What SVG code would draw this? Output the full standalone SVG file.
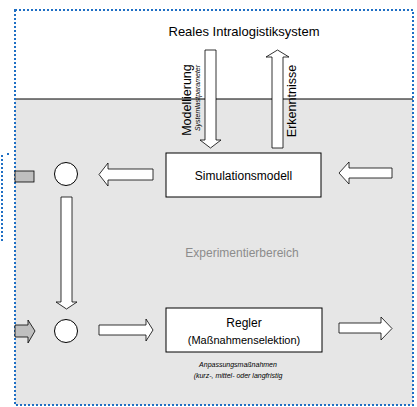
<svg xmlns="http://www.w3.org/2000/svg" width="417" height="407" viewBox="0 0 417 407">
<style>
.blk{fill:#fff;stroke:#000;stroke-width:1}
.arr{fill:#fff;stroke:#000;stroke-width:0.8}
.gar{fill:#bfbfbf;stroke:#000;stroke-width:0.8}
.t{font-family:"Liberation Sans",Arial,sans-serif;fill:#000}
.dot{fill:none;stroke:#1f6fc4;stroke-width:2;stroke-dasharray:2 2}
</style>
<rect x="0" y="0" width="417" height="407" fill="#fff"/>
<rect x="15" y="99" width="398" height="306" fill="#e6e6e6"/>
<line x1="15" y1="99" x2="413" y2="99" stroke="#000" stroke-width="1"/>
<rect class="dot" x="15" y="10" width="398" height="395"/>
<line class="dot" x1="2" y1="155" x2="2" y2="242"/>
<rect x="7" y="153" width="2" height="2" fill="#1f6fc4"/>
<text class="t" x="244" y="36" font-size="13" text-anchor="middle">Reales Intralogistiksystem</text>
<text class="t" x="242" y="257" font-size="12" text-anchor="middle" style="fill:#8c8c8c">Experimentierbereich</text>
<g id="connectors">
<polygon class="arr" points="205,50 216,50 216,140 221,140 210.5,148 200,140 205,140"/>
<polygon class="arr" points="272,148 283,148 283,57 289,57 277.5,50 266,57 272,57"/>
<polygon class="arr" points="153,169 108,169 108,163 99,174.5 108,186 108,180 153,180"/>
<polygon class="arr" points="392,168 349,168 349,162 339,173 349,184 349,178 392,178"/>
<rect class="gar" x="15" y="171" width="19" height="11"/>
<polygon class="arr" points="61,197 72,197 72,302 77,302 66.5,309 56,302 61,302"/>
<polygon class="gar" points="15,325 28,325 28,320 35,331 28,343 28,337 15,337"/>
<polygon class="arr" points="99,325 146,325 146,319 153,330 146,341 146,335 99,335"/>
<polygon class="arr" points="339,323 381,323 381,317 392,328.5 381,340 381,333 339,333"/>
</g>
<text class="t" x="191" y="100" font-size="12.5" text-anchor="middle" transform="rotate(-90 191 100)">Modellierung</text>
<text class="t" x="200" y="98" font-size="7" font-style="italic" text-anchor="middle" transform="rotate(-90 200 98)">Systemlastparameter</text>
<text class="t" x="296" y="101" font-size="12.5" text-anchor="middle" transform="rotate(-90 296 101)">Erkenntnisse</text>
<g id="sim">
<rect class="blk" x="166" y="153" width="155" height="44"/>
<text class="t" x="243.5" y="179.5" font-size="12" text-anchor="middle">Simulationsmodell</text>
</g>
<g id="c1"><circle class="blk" cx="66" cy="174" r="11.5"/></g>
<g id="c2"><circle class="blk" cx="66" cy="331" r="11.5"/></g>
<g id="regler">
<rect class="blk" x="166" y="308" width="156" height="44"/>
<text class="t" x="244" y="327" font-size="12" text-anchor="middle">Regler</text>
<text class="t" x="244" y="344" font-size="11" text-anchor="middle">(Maßnahmenselektion)</text>
</g>
<text class="t" x="238" y="367" font-size="7" font-style="italic" text-anchor="middle">Anpassungsmaßnahmen</text>
<text class="t" x="238" y="378" font-size="7" font-style="italic" text-anchor="middle">(kurz-, mittel- oder langfristig</text>
</svg>
